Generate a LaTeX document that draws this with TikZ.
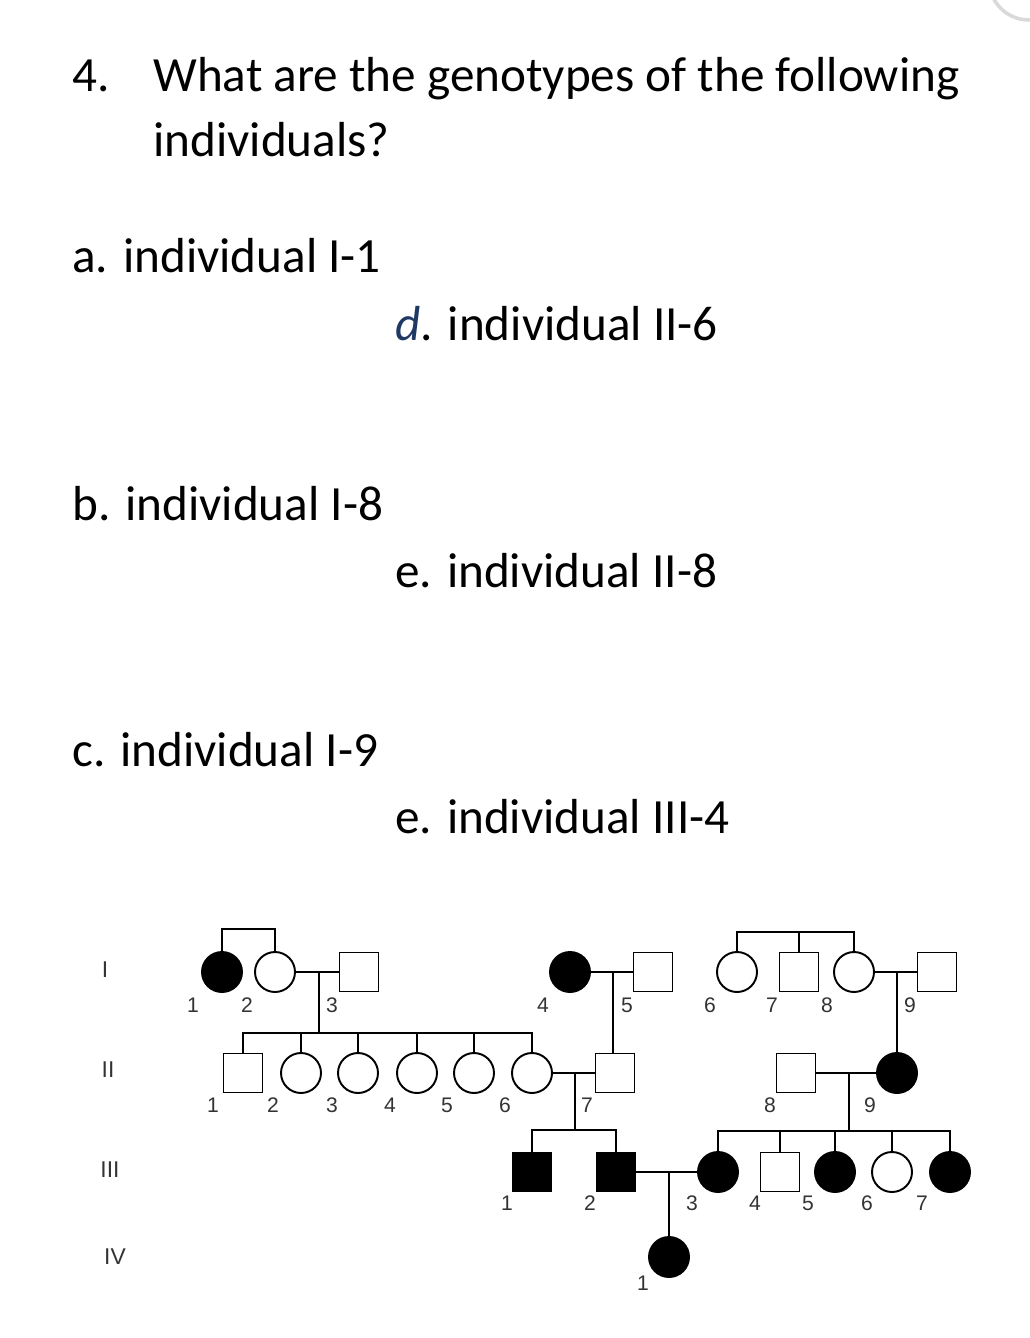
\documentclass[tikz,border=0pt]{standalone}
\usepackage{fontspec}
\setmainfont{Carlito}
\newfontfamily\lblfont{Liberation Sans}
\begin{document}
\begin{tikzpicture}[x=0.02cm,y=-0.02cm,
  fem/.style={circle,draw,line width=1.1pt,minimum size=0.8cm,inner sep=0pt},
  mal/.style={rectangle,draw,line width=1.1pt,minimum size=0.78cm,inner sep=0pt},
  aff/.style={fill=black},
  ln/.style={line width=1.1pt},
  num/.style={font=\lblfont\fontsize{12}{12}\selectfont,text=black!80,inner sep=0pt},
  gen/.style={font=\lblfont\fontsize{13}{13}\selectfont,text=black!80,inner sep=0pt},
  q/.style={font=\fontsize{28}{28}\selectfont,anchor=base west,inner sep=0pt}]
\useasboundingbox (0,0) rectangle (1029,1338);
\draw[black!15,line width=2pt] (1029,-20) circle[radius=40];
% questions
\node[q] (n4) at (72,92) {4.};
\node[q] (t1) at (153,92) {What are the genotypes of the following};
\node[q] (t2) at (153,157) {individuals?};
\node[q] (qa) at (72,272) {a. individual I-1};
\node[q] (qd) at (395,340) {\textcolor[HTML]{1F3864}{\itshape d}. individual II-6};
\node[q] (qb) at (72,520) {b. individual I-8};
\node[q] (qe) at (395,587) {e. individual II-8};
\node[q] (qc) at (72,766) {c. individual I-9};
\node[q] (qf) at (395,833) {e. individual III-4};
% generation labels
\node[gen] (gI) at (105,970) {I};
\node[gen] (gII) at (108,1070) {II};
\node[gen] (gIII) at (110,1170) {III};
\node[gen] (gIV) at (115,1257) {IV};
% generation I
\node[fem,aff] (I1) at (222,972) {};
\node[fem] (I2) at (275,972) {};
\node[mal] (I3) at (359,972) {};
\node[fem,aff] (I4) at (570,972) {};
\node[mal] (I5) at (653,972) {};
\node[fem] (I6) at (737,972) {};
\node[mal] (I7) at (799,972) {};
\node[fem] (I8) at (854,972) {};
\node[mal] (I9) at (937,972) {};
% generation II
\node[mal] (II1) at (243,1073) {};
\node[fem] (II2) at (301,1073) {};
\node[fem] (II3) at (358,1073) {};
\node[fem] (II4) at (417,1073) {};
\node[fem] (II5) at (474,1073) {};
\node[fem] (II6) at (532,1073) {};
\node[mal] (II7) at (615,1073) {};
\node[mal] (II8) at (796,1073) {};
\node[fem,aff] (II9) at (897,1073) {};
% generation III
\node[mal,aff] (III1) at (532,1172) {};
\node[mal,aff] (III2) at (616,1172) {};
\node[fem,aff] (III3) at (718,1172) {};
\node[mal] (III4) at (780,1172) {};
\node[fem,aff] (III5) at (835,1172) {};
\node[fem] (III6) at (892,1172) {};
\node[fem,aff] (III7) at (950,1172) {};
% generation IV
\node[fem,aff] (IV1) at (669,1257) {};
% lines gen I
\draw[ln] (I1.north) |- (275,929) -- (I2.north);
\draw[ln] (I2) -- (I3);
\coordinate (m1) at (319,972);
\draw[ln] (m1) -- (319,1033);
\draw[ln] (II1.north) |- (532,1033);
\foreach \n in {II2,II3,II4,II5,II6}{\draw[ln] (\n.north) -- ++(0,-20);}
\draw[ln] (I4) -- (I5);
\coordinate (m2) at (613,972);
\draw[ln] (m2) -- (613,1053.5);
\draw[ln] (I6.north) |- (854,932) -- (I8.north);
\draw[ln] (I7.north) -- (799,932);
\draw[ln] (I8) -- (I9);
\coordinate (m3) at (897,972);
\draw[ln] (m3) -- (II9.north);
% lines gen II
\draw[ln] (II6) -- (II7);
\coordinate (m4) at (575,1073);
\draw[ln] (m4) -- (575,1130);
\draw[ln] (III1.north) |- (616,1130) -- (III2.north);
\draw[ln] (II8) -- (II9);
\coordinate (m5) at (849,1073);
\draw[ln] (m5) -- (849,1131);
\draw[ln] (III3.north) |- (950,1131) -- (III7.north);
\foreach \n in {III4,III5,III6}{\draw[ln] (\n.north) -- ++(0,-21);}
% lines gen III
\draw[ln] (III2) -- (III3);
\coordinate (m6) at (669,1172);
\draw[ln] (m6) -- (IV1.north);
% numbers
\foreach \t/\x in {1/193,2/247,3/332,4/543,5/627,6/710,7/772,8/827,9/910}{\node[num] at (\x,1005) {\t};}
\foreach \t/\x in {1/213,2/273,3/332,4/390,5/447,6/505,7/587,8/770,9/870}{\node[num] at (\x,1105) {\t};}
\foreach \t/\x in {1/507,2/590,3/692,4/755,5/808,6/867,7/922}{\node[num] at (\x,1203) {\t};}
\node[num] at (643,1283) {1};
\end{tikzpicture}
\end{document}
